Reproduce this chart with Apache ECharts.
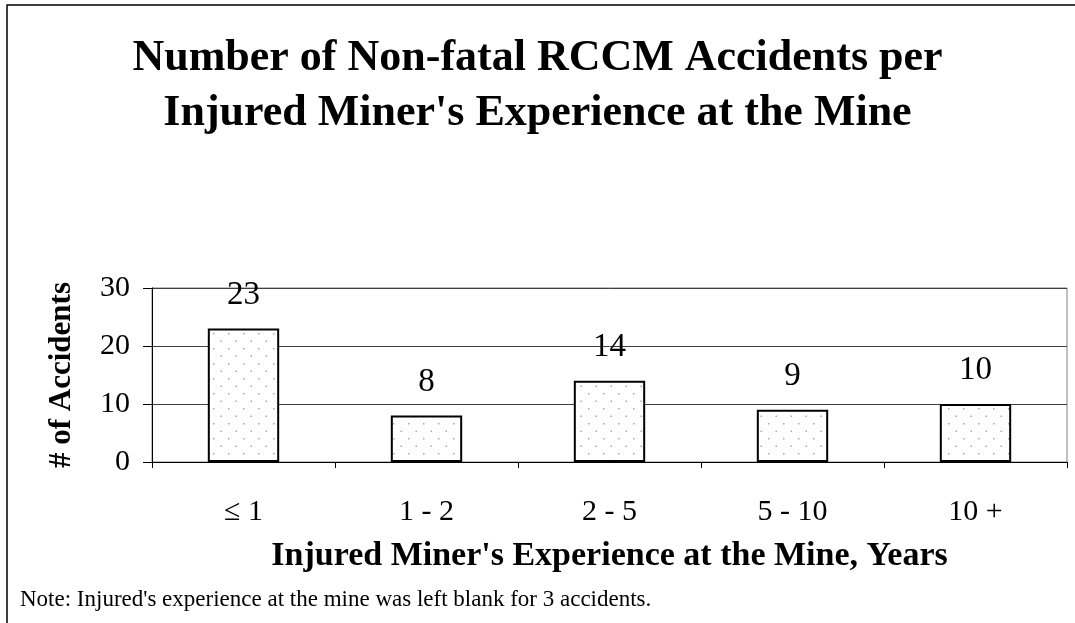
<!DOCTYPE html>
<html>
<head>
<meta charset="utf-8">
<script src="https://cdn.jsdelivr.net/npm/echarts@6/dist/echarts.min.js"></script>
<style>
html, body { margin: 0; padding: 0; background: #fff; }
#main { width: 1075px; height: 623px; }
</style>
</head>
<body>
<div id="main"></div>
<script>
// categories and values
var categories = ['≤ 1', '1 - 2', '2 - 5', '5 - 10', '10 +'];
var accidents = [23, 8, 14, 9, 10];
var yTicks = [0, 10, 20, 30];

// dotted fill like the old office pattern
function dotPattern() {
	var c = document.createElement('canvas');
	c.width = 15;
	c.height = 15;
	var ctx = c.getContext('2d');
	ctx.fillStyle = '#ffffff';
	ctx.fillRect(0, 0, 15, 15);
	ctx.fillStyle = '#a0a0ff';
	ctx.fillRect(3, 3, 1.5, 1.5);
	ctx.fillRect(10.5, 10.5, 1.5, 1.5);
	return c;
}

var myChart = echarts.init(document.getElementById('main'));
var serif = 'Liberation Serif';

var option = {
	backgroundColor: '#fff',
	animation: false,
	title: {
		text: "Number of Non-fatal RCCM Accidents per\nInjured Miner's Experience at the Mine",
		left: 'center',
		top: 26,
		textStyle: {
			fontFamily: serif,
			fontWeight: 'bold',
			fontSize: 44,
			lineHeight: 55,
			color: '#000'
		}
	},
	grid: {
		left: 152,
		right: 8,
		top: 288,
		bottom: 161,
		show: true,
		borderColor: '#808080',
		borderWidth: 1
	},
	xAxis: {
		type: 'category',
		data: categories,
		name: "Injured Miner's Experience at the Mine, Years",
		nameLocation: 'middle',
		nameGap: 77,
		nameTextStyle: {
			fontFamily: serif,
			fontWeight: 'bold',
			fontSize: 34,
			color: '#000'
		},
		axisLine: { lineStyle: { color: '#000', width: 1 } },
		axisTick: { show: true, length: 6, lineStyle: { color: '#000' } },
		axisLabel: {
			fontFamily: serif,
			fontSize: 30,
			color: '#000',
			margin: 35
		}
	},
	yAxis: {
		type: 'value',
		min: yTicks[0],
		max: yTicks[yTicks.length - 1],
		interval: 10,
		name: '# of Accidents',
		nameLocation: 'middle',
		nameGap: 75,
		nameTextStyle: {
			fontFamily: serif,
			fontWeight: 'bold',
			fontSize: 31,
			color: '#000'
		},
		axisLine: { show: true, lineStyle: { color: '#000', width: 1 } },
		axisTick: { show: true, length: 9, lineStyle: { color: '#000' } },
		axisLabel: {
			fontFamily: serif,
			fontSize: 30,
			color: '#000',
			margin: 22
		},
		splitLine: { show: true, lineStyle: { color: '#404040', width: 1 } }
	},
	series: [{
		type: 'bar',
		data: accidents,
		barWidth: '39%',
		itemStyle: {
			color: { image: dotPattern(), repeat: 'repeat' },
			borderColor: '#000',
			borderWidth: 2
		},
		label: {
			show: true,
			position: 'top',
			distance: 17,
			fontFamily: serif,
			fontSize: 33,
			color: '#000'
		}
	}],
	graphic: [{
		type: 'polyline',
		shape: { points: [[7, 623], [7, 5], [1075, 5]] },
		style: { stroke: '#000', lineWidth: 1.5, fill: null }
	}, {
		type: 'text',
		left: 20,
		top: 588,
		style: {
			text: "Note: Injured's experience at the mine was left blank for 3 accidents.",
			font: '23px "Liberation Serif"',
			fill: '#000'
		}
	}]
};

myChart.setOption(option);
</script>
</body>
</html>
